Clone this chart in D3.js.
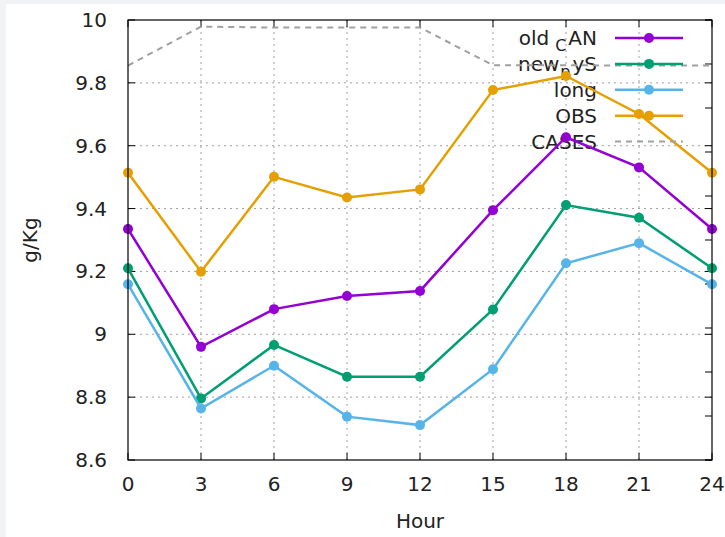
<!DOCTYPE html>
<html>
<head>
<meta charset="utf-8">
<script src="https://cdn.jsdelivr.net/npm/d3@7"></script>
<style>
  body { margin: 0; background: #f1f3f5; }
  svg { display: block; }
  text { font-family: "DejaVu Sans", sans-serif; fill: #222; }
</style>
</head>
<body>
<div id="chart"></div>
<script>
(function () {
    var width = 725, height = 537;

    // hours on the x axis
    var hours = [0, 3, 6, 9, 12, 15, 18, 21, 24];
    var yTicks = [8.6, 8.8, 9, 9.2, 9.4, 9.6, 9.8, 10];

    // series values (g/Kg)
    var oldCAN = [9.335, 8.960, 9.080, 9.122, 9.138, 9.395, 9.627, 9.531, 9.335];
    var newPyS = [9.210, 8.796, 8.966, 8.865, 8.865, 9.079, 9.411, 9.371, 9.210];
    var longRun = [9.159, 8.764, 8.900, 8.738, 8.711, 8.889, 9.226, 9.290, 9.159];
    var obs = [9.514, 9.199, 9.501, 9.435, 9.461, 9.777, 9.822, 9.701, 9.514];
    var cases = [9.855, 9.979, 9.976, 9.976, 9.976, 9.856, 9.856, 9.855, 9.855];

    var series = [
        {name: "old", sub: "C", rest: "AN", values: oldCAN, color: "#9400d3"},
        {name: "new", sub: "p", rest: "yS", values: newPyS, color: "#009e73"},
        {name: "long", sub: "", rest: "", values: longRun, color: "#56b4e9"},
        {name: "OBS", sub: "", rest: "", values: obs, color: "#e69f00"}
    ];

    var fs = 20;
    var margin = {top: 20, right: 13, bottom: 77, left: 128};
    var x = d3.scaleLinear().domain([0, 24]).range([margin.left, width - margin.right]);
    var y = d3.scaleLinear().domain([8.6, 10]).range([height - margin.bottom, margin.top]);
    // second y axis on the right, only ticks show
    var y2 = d3.scaleLinear().domain([0, 10]).range([height - margin.bottom, margin.top]);

    var svg = d3.select("#chart")
        .append("svg")
        .attr("width", width)
        .attr("height", height);

    // white page with a thin grey strip on the left/top
    svg.append("rect")
        .attr("x", 6).attr("y", 4)
        .attr("width", width - 6).attr("height", height - 4)
        .attr("fill", "#fff");

    var x0 = x(0), x1 = x(24), yb = y(8.6), yt = y(10);

    // grid
    var grid = svg.append("g")
        .attr("stroke", "#a0a0a0")
        .attr("stroke-width", 1)
        .attr("stroke-dasharray", "2,4");
    grid.selectAll(".gx")
        .data(hours.slice(1, -1))
        .join("line")
        .attr("x1", d => x(d)).attr("x2", d => x(d))
        .attr("y1", yb).attr("y2", yt);
    grid.selectAll(".gy")
        .data(yTicks.slice(1, -1))
        .join("line")
        .attr("x1", x0).attr("x2", x1)
        .attr("y1", d => y(d)).attr("y2", d => y(d));

    // ticks (inward, mirrored)
    var ticks = svg.append("g").attr("stroke", "#000").attr("stroke-width", 1);
    hours.forEach(function (h) {
        ticks.append("line").attr("x1", x(h)).attr("x2", x(h)).attr("y1", yb).attr("y2", yb - 7);
        ticks.append("line").attr("x1", x(h)).attr("x2", x(h)).attr("y1", yt).attr("y2", yt + 7);
    });
    yTicks.forEach(function (v) {
        ticks.append("line").attr("x1", x0).attr("x2", x0 + 7).attr("y1", y(v)).attr("y2", y(v));
        ticks.append("line").attr("x1", x1).attr("x2", x1 - 7).attr("y1", y(v)).attr("y2", y(v));
    });
    y2.ticks(10).forEach(function (v) {
        ticks.append("line").attr("x1", x1).attr("x2", x1 - 7).attr("y1", y2(v)).attr("y2", y2(v));
    });

    // tick labels
    svg.append("g").selectAll("text")
        .data(hours)
        .join("text")
        .attr("x", d => x(d))
        .attr("y", yb + 31)
        .attr("text-anchor", "middle")
        .attr("font-size", fs)
        .text(d => d);
    svg.append("g").selectAll("text")
        .data(yTicks)
        .join("text")
        .attr("x", 107)
        .attr("y", d => y(d) + 7)
        .attr("text-anchor", "end")
        .attr("font-size", fs)
        .text(d => d3.format("")(d));

    svg.append("text")
        .attr("x", (x0 + x1) / 2)
        .attr("y", 528)
        .attr("text-anchor", "middle")
        .attr("font-size", fs)
        .text("Hour");
    svg.append("text")
        .attr("transform", "translate(37," + ((yb + yt) / 2) + ") rotate(-90)")
        .attr("text-anchor", "middle")
        .attr("font-size", fs)
        .text("g/Kg");

    // legend text first, data drawn over it
    var keyRows = series.concat([{name: "CASES", sub: "", rest: ""}]);
    var keyY = function (i) { return 38 + i * 25.9; };
    var keyText = svg.append("g").selectAll("text")
        .data(keyRows)
        .join("text")
        .attr("x", 597)
        .attr("y", (d, i) => keyY(i) + 7)
        .attr("text-anchor", "end")
        .attr("font-size", fs);
    keyText.append("tspan").text(d => d.name);
    keyText.filter(d => d.sub).append("tspan")
        .attr("dx", d => d.sub == "C" ? 6 : 1)
        .attr("dy", 6).attr("font-size", 16).text(d => d.sub);
    keyText.filter(d => d.sub).append("tspan")
        .attr("dx", 2)
        .attr("dy", -6).text(d => d.rest);

    var line = d3.line().x((d, i) => x(hours[i])).y(d => y(d));

    // CASES dashed line
    svg.append("path")
        .attr("d", line(cases))
        .attr("fill", "none")
        .attr("stroke", "#a0a0a0")
        .attr("stroke-width", 2)
        .attr("stroke-dasharray", "6,5");

    series.forEach(function (s) {
        svg.append("path")
            .attr("d", line(s.values))
            .attr("fill", "none")
            .attr("stroke", s.color)
            .attr("stroke-width", 2.5);
        svg.append("g").selectAll("circle")
            .data(s.values)
            .join("circle")
            .attr("cx", (d, i) => x(hours[i]))
            .attr("cy", d => y(d))
            .attr("r", 5)
            .attr("fill", s.color);
    });

    // legend samples
    var sx0 = 615, sx1 = 683;
    series.forEach(function (s, i) {
        svg.append("line")
            .attr("x1", sx0).attr("x2", sx1)
            .attr("y1", keyY(i)).attr("y2", keyY(i))
            .attr("stroke", s.color).attr("stroke-width", 2.5);
        svg.append("circle")
            .attr("cx", (sx0 + sx1) / 2).attr("cy", keyY(i))
            .attr("r", 5).attr("fill", s.color);
    });
    svg.append("line")
        .attr("x1", sx0).attr("x2", sx1)
        .attr("y1", keyY(4)).attr("y2", keyY(4))
        .attr("stroke", "#a0a0a0").attr("stroke-width", 2)
        .attr("stroke-dasharray", "6,5");

    // border
    svg.append("rect")
        .attr("x", x0).attr("y", yt)
        .attr("width", x1 - x0).attr("height", yb - yt)
        .attr("fill", "none")
        .attr("stroke", "#000")
        .attr("stroke-width", 1.2);
})();
</script>
</body>
</html>
